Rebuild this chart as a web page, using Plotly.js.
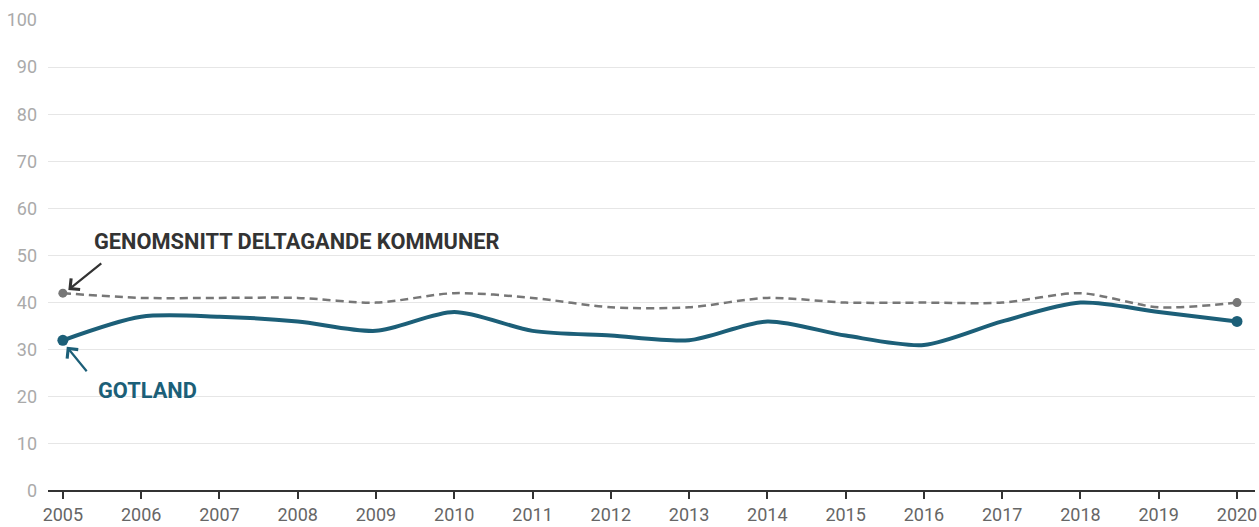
<!DOCTYPE html>
<html>
<head>
<meta charset="utf-8">
<script src="https://cdn.plot.ly/plotly-3.0.1.min.js"></script>
<style>html,body{margin:0;padding:0;background:#fff;}#chart{width:1259px;height:527px;}</style>
</head>
<body>
<div id="chart"></div>
<script>
var years = [2005,2006,2007,2008,2009,2010,2011,2012,2013,2014,2015,2016,2017,2018,2019,2020];
var gotland = [32,37,37,36,34,38,34,33,32,36,33,31,36,40,38,36];
var average = [42,41,41,41,40,42,41,39,39,41,40,40,40,42,39,40];
var yTicks = [0,10,20,30,40,50,60,70,80,90,100];
var labelAverage = 'GENOMSNITT DELTAGANDE KOMMUNER';
var labelGotland = 'GOTLAND';

var teal = '#1c5f78';
var grey = '#777777';

function endSizes(n, s) { var a = []; for (var i = 0; i < n; i++) a.push(i === 0 || i === n - 1 ? s : 0); return a; }

var traces = [
  {
    x: years, y: average, type: 'scatter', mode: 'lines+markers',
    line: {color: grey, width: 2.5, dash: '8px,5px', shape: 'spline', smoothing: 0.8},
    marker: {color: grey, size: endSizes(years.length, 9), opacity: 1, line: {width: 0}},
    hoverinfo: 'x+y'
  },
  {
    x: years, y: gotland, type: 'scatter', mode: 'lines+markers',
    line: {color: teal, width: 4, shape: 'spline', smoothing: 0.8},
    marker: {color: teal, size: endSizes(years.length, 11), opacity: 1, line: {width: 0}},
    hoverinfo: 'x+y'
  }
];

var layout = {
  width: 1259, height: 527,
  margin: {l: 48, r: 4, t: 20, b: 36},
  paper_bgcolor: '#fff', plot_bgcolor: '#fff',
  showlegend: false,
  font: {family: 'Roboto, sans-serif'},
  xaxis: {
    range: [2004.81, 2020.23],
    tickmode: 'array', tickvals: years, ticktext: years.map(String),
    showgrid: false, zeroline: false, showline: false,
    ticks: 'outside', ticklen: 7, tickwidth: 2, tickcolor: '#333',
    tickfont: {size: 18, color: '#666', family: 'Roboto, sans-serif'}
  },
  yaxis: {
    range: [0, 100], tickmode: 'array', tickvals: yTicks,
    showgrid: true, gridcolor: '#e6e6e6', gridwidth: 1,
    zeroline: true, zerolinecolor: '#333', zerolinewidth: 2.5,
    ticks: '', ticklabelstandoff: 10,
    tickfont: {size: 18, color: '#aaaaaa', family: 'Roboto, sans-serif'}
  },
  annotations: [
    {
      x: 2005.37, y: 52.9, xref: 'x', yref: 'y', text: '<b>' + labelAverage + '</b>',
      showarrow: false, xanchor: 'left', yanchor: 'middle',
      font: {size: 21.8, color: '#333', family: 'Roboto, sans-serif'}
    },
    {
      x: 2005.07, y: 42.7, xref: 'x', yref: 'y', ax: 2005.51, ay: 48.6, axref: 'x', ayref: 'y',
      text: '', showarrow: true, arrowhead: 4, arrowsize: 1.25, arrowwidth: 2.2, arrowcolor: '#333'
    },
    {
      x: 2005.42, y: 21.4, xref: 'x', yref: 'y', text: '<b>' + labelGotland + '</b>',
      showarrow: false, xanchor: 'left', yanchor: 'middle',
      font: {size: 21.8, color: teal, family: 'Roboto, sans-serif'}
    },
    {
      x: 2005.05, y: 30.6, xref: 'x', yref: 'y', ax: 2005.32, ay: 25.1, axref: 'x', ayref: 'y',
      text: '', showarrow: true, arrowhead: 4, arrowsize: 1.25, arrowwidth: 2.2, arrowcolor: teal
    }
  ]
};

Plotly.newPlot('chart', traces, layout, {displayModeBar: false, staticPlot: true});
</script>
</body>
</html>
